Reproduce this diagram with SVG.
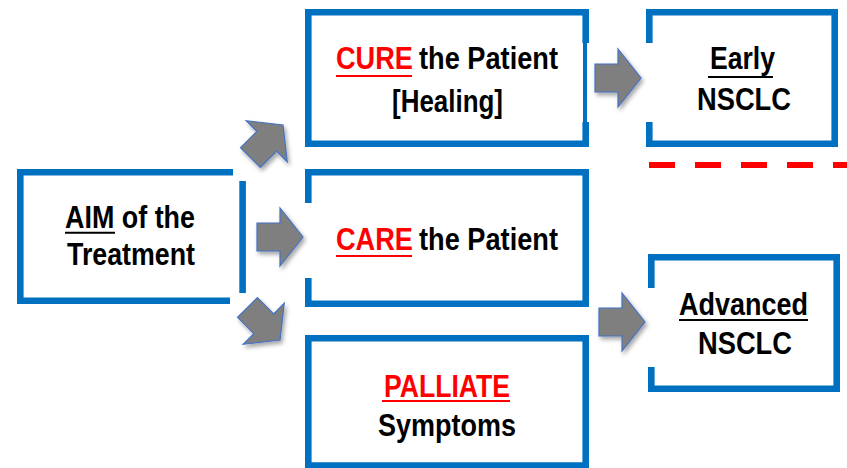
<svg xmlns="http://www.w3.org/2000/svg" width="847" height="468" viewBox="0 0 847 468">
  <defs>
    <style>
      .frame { fill: none; stroke: #0070C0; stroke-width: 6.6; stroke-linecap: butt; stroke-linejoin: miter; }
      .bg { fill: #FFFFFF; }
      .t { font-family: "Liberation Sans", Arial, sans-serif; font-size: 31.5px; font-weight: bold; fill: #000000; }
      .red { fill: #FF0000; }
      .ul { stroke: #000000; stroke-width: 2; }
      .ul-red { stroke: #FF0000; stroke-width: 2; }
      .arrow { fill: #7F7F7F; stroke: #4472C4; stroke-width: 1.2; stroke-linejoin: miter; }
      .divider { fill: none; stroke: #FF0000; stroke-width: 6; stroke-dasharray: 26 20; }
    </style>
    <filter id="shadow" x="-30%" y="-30%" width="170%" height="170%">
      <feDropShadow dx="2" dy="3" stdDeviation="2" flood-color="#000000" flood-opacity="0.35"/>
    </filter>
    <!-- block arrow, tip at the origin, pointing along +x -->
    <path id="blockArrow" d="M-46,-14 H-23 V-29 L0,0 L-23,29 V14 H-46 Z"/>
  </defs>

  <rect width="847" height="468" fill="#FFFFFF"/>

  <g id="node-aim">
    <rect class="bg" x="17" y="169" width="229" height="135"/>
    <path class="frame" d="M233,172.3 H20.3 V300.7 H230 M242.6,181 V293"/>
    <text class="t" x="65" y="227.5" textLength="130" lengthAdjust="spacingAndGlyphs">AIM of the</text>
    <line class="ul" x1="65" y1="232.7" x2="115" y2="232.7"/>
    <text class="t" x="67" y="264.5" textLength="128" lengthAdjust="spacingAndGlyphs">Treatment</text>
  </g>

  <g id="node-cure">
    <rect class="bg" x="305" y="9" width="284" height="138"/>
    <path class="frame" d="M585.7,43 V12.3 H308.3 V143.7 H585.7 V122"/>
    <line x1="585" y1="43" x2="585" y2="122" stroke="#0070C0" stroke-width="4"/>
    <text class="t red" x="336" y="69" textLength="77" lengthAdjust="spacingAndGlyphs">CURE</text>
    <text class="t" x="419" y="69" textLength="139" lengthAdjust="spacingAndGlyphs">the Patient</text>
    <line class="ul-red" x1="336" y1="76" x2="412" y2="76"/>
    <text class="t" x="392" y="112" textLength="111" lengthAdjust="spacingAndGlyphs">[Healing]</text>
  </g>

  <g id="node-care">
    <rect class="bg" x="305" y="169" width="284" height="138"/>
    <path class="frame" d="M308.3,203 V172.3 H585.7 V303.7 H308.3 V278"/>
    <text class="t red" x="336" y="250" textLength="77" lengthAdjust="spacingAndGlyphs">CARE</text>
    <text class="t" x="419" y="250" textLength="139" lengthAdjust="spacingAndGlyphs">the Patient</text>
    <line class="ul-red" x1="336" y1="256" x2="412" y2="256"/>
  </g>

  <g id="node-palliate">
    <rect class="bg" x="305" y="335" width="284" height="134"/>
    <path class="frame" d="M308.3,469 V338.3 H585.7 V469 M305,465.5 H589"/>
    <text class="t red" x="384" y="397" textLength="126" lengthAdjust="spacingAndGlyphs">PALLIATE</text>
    <line class="ul-red" x1="382" y1="401" x2="510" y2="401"/>
    <text class="t" x="378" y="436" textLength="138" lengthAdjust="spacingAndGlyphs">Symptoms</text>
  </g>

  <g id="node-early">
    <rect class="bg" x="646" y="9" width="192" height="138"/>
    <path class="frame" d="M649.3,43 V12.3 H834.7 V143.7 H649.3 V122"/>
    <text class="t" x="710" y="69" textLength="65" lengthAdjust="spacingAndGlyphs">Early</text>
    <line class="ul" x1="708" y1="77" x2="773" y2="77"/>
    <text class="t" x="697" y="110" textLength="94" lengthAdjust="spacingAndGlyphs">NSCLC</text>
  </g>

  <g id="node-advanced">
    <rect class="bg" x="648" y="254" width="192" height="138"/>
    <path class="frame" d="M651.3,288 V257.3 H836.7 V388.7 H651.3 V367"/>
    <text class="t" x="679" y="314.5" textLength="129" lengthAdjust="spacingAndGlyphs">Advanced</text>
    <line class="ul" x1="679" y1="320" x2="808" y2="320"/>
    <text class="t" x="698" y="354" textLength="94" lengthAdjust="spacingAndGlyphs">NSCLC</text>
  </g>

  <g id="divider">
    <line class="divider" x1="649" y1="165" x2="847" y2="165"/>
  </g>

  <g id="connectors" filter="url(#shadow)">
    <use href="#blockArrow" class="arrow" transform="translate(283,125) rotate(-45)"/>
    <use href="#blockArrow" class="arrow" transform="translate(303,237)"/>
    <use href="#blockArrow" class="arrow" transform="translate(280,340) rotate(45)"/>
    <use href="#blockArrow" class="arrow" transform="translate(641,78)"/>
    <use href="#blockArrow" class="arrow" transform="translate(645,322)"/>
  </g>
</svg>
